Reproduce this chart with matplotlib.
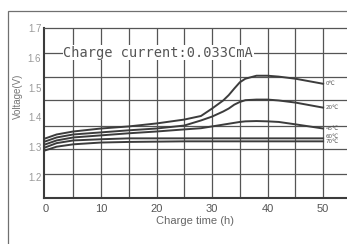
import matplotlib
matplotlib.use('Agg')
import matplotlib.pyplot as plt
from matplotlib.patches import Rectangle

# Data
hours = [0, 2, 5, 10, 15, 20, 25, 28, 30, 32, 33, 34, 35, 36, 38, 40, 42, 45, 50]
v_0c = [1.330, 1.343, 1.353, 1.363, 1.370, 1.380, 1.393, 1.405, 1.430, 1.457, 1.475, 1.497, 1.518, 1.530, 1.540, 1.540, 1.537, 1.530, 1.513]
v_20c = [1.320, 1.333, 1.343, 1.350, 1.357, 1.363, 1.373, 1.390, 1.403, 1.420, 1.430, 1.443, 1.452, 1.458, 1.460, 1.460, 1.457, 1.450, 1.433]
v_45c = [1.310, 1.323, 1.333, 1.340, 1.347, 1.353, 1.360, 1.364, 1.370, 1.376, 1.379, 1.382, 1.385, 1.387, 1.388, 1.387, 1.385, 1.377, 1.363]
v_60c = [1.300, 1.314, 1.323, 1.327, 1.330, 1.330, 1.330, 1.330, 1.330, 1.330, 1.330, 1.330, 1.330, 1.330, 1.330, 1.330, 1.330, 1.330, 1.330]
v_70c = [1.290, 1.302, 1.310, 1.316, 1.318, 1.319, 1.320, 1.320, 1.320, 1.320, 1.320, 1.320, 1.320, 1.320, 1.320, 1.320, 1.320, 1.320, 1.320]
series = [v_0c, v_20c, v_45c, v_60c, v_70c]
temp_labels = ['0℃', '20℃', '45℃', '60℃', '70℃']
label_y = [1.513, 1.435, 1.363, 1.337, 1.318]

x_ticks = [0, 10, 20, 30, 40, 50]
y_ticks = [1.2, 1.3, 1.4, 1.5, 1.6, 1.7]
# the scanned grid does not line up with the tick labels
h_grid = [1.617, 1.537, 1.457, 1.373, 1.293, 1.21]
v_grid = [5, 10, 15, 20, 25, 30, 35, 40, 45, 50]

plt.rcParams['font.family'] = ['Liberation Sans', 'DejaVu Sans']

fig = plt.figure(figsize=(3.47, 2.44), dpi=100)
ax = fig.add_axes([44 / 347, 1 - 198 / 244, 1 - 44 / 347, 170 / 244])

# outer frame of the scan
fig.add_artist(Rectangle((8 / 347, -0.1), 1.0, 1 - 11 / 244 + 0.1,
                         transform=fig.transFigure, fill=False,
                         edgecolor='#707070', linewidth=0.9))

for y in h_grid:
    ax.axhline(y, color='#555555', linewidth=0.9, zorder=1)
for x in v_grid:
    ax.axvline(x, color='#555555', linewidth=0.9, zorder=1)

for vals in series:
    ax.plot(hours, vals, color='#3c3c3c', linewidth=1.4, zorder=3)

for lab, y in zip(temp_labels, label_y):
    ax.text(50.4, y, lab, fontsize=4, color='#555555', va='center', ha='left',
            family=['DejaVu Sans'])

ax.text(3.2, 1.617, 'Charge current:0.033CmA', family=['DejaVu Sans Mono'],
        fontsize=9.8, color='#555555', va='center', ha='left', zorder=4,
        bbox=dict(facecolor='white', edgecolor='none', pad=0.5))

ax.set_xlim(-0.27, 54.3)
ax.set_ylim(1.13, 1.697)
ax.set_xticks(x_ticks)
ax.set_yticks(y_ticks)
ax.tick_params(axis='both', length=0)
ax.tick_params(axis='x', labelsize=8, labelcolor='#555555', pad=4)
ax.tick_params(axis='y', labelsize=7, labelcolor='#999999', pad=2)

ax.spines['right'].set_visible(False)
ax.spines['top'].set_color('#555555')
ax.spines['top'].set_linewidth(0.9)
ax.spines['left'].set_color('#3c3c3c')
ax.spines['left'].set_linewidth(1.5)
ax.spines['bottom'].set_color('#3c3c3c')
ax.spines['bottom'].set_linewidth(1.5)

ax.set_xlabel('Charge time (h)', fontsize=8, color='#666666', labelpad=2)
ax.set_ylabel('Voltage(V)', fontsize=7, color='#777777')
ax.yaxis.set_label_coords(-0.07, 0.6)

fig.savefig('out.png', dpi=100)
